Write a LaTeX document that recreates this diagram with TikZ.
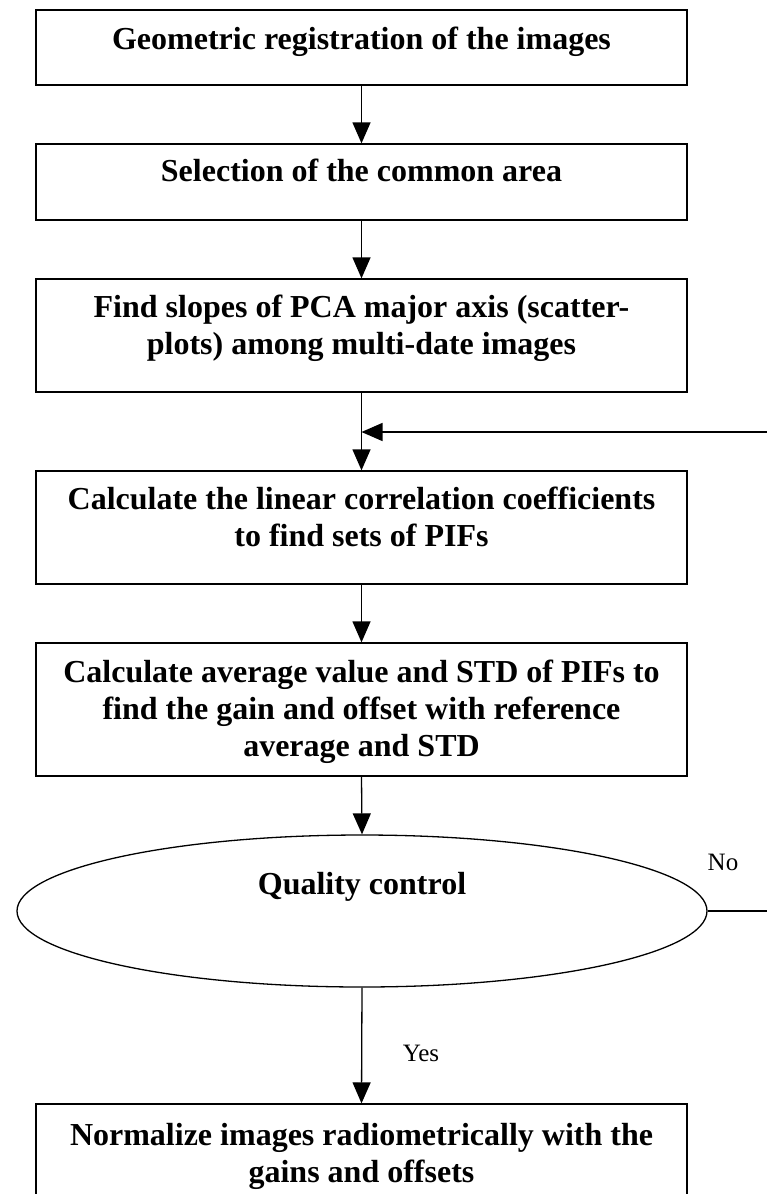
\documentclass[tikz,border=0pt]{standalone}
\usepackage{fontspec}
\setmainfont{Liberation Serif}
\usetikzlibrary{arrows.meta,shapes.geometric}
\begin{document}
\begin{tikzpicture}[x=1pt,y=-1pt,
  box/.style={draw, line width=1.3pt, minimum width=651pt, inner sep=0pt, rectangle},
  lbl/.style={font=\fontsize{32}{36.8}\selectfont\bfseries, align=center, anchor=base, inner sep=0pt},
  small/.style={font=\fontsize{25}{29}\selectfont, inner sep=0pt},
  arr/.style={line width=1.3pt, -{Triangle[length=21pt,width=18pt]}}
]
\useasboundingbox (0,0) rectangle (767,1194);
\clip (0,0) rectangle (767,1194);
\fill[white] (0,0) rectangle (767,1194);

\node[box, minimum height=75pt]  (b1) at (361.5,47.5) {};
\node[box, minimum height=76pt]  (b2) at (361.5,182) {};
\node[box, minimum height=113pt] (b3) at (361.5,335.5) {};
\node[box, minimum height=113pt] (b4) at (361.5,527.5) {};
\node[box, minimum height=133pt] (b5) at (361.5,709.5) {};
\node[draw, ellipse, line width=1.3pt, minimum width=690pt, minimum height=152pt, inner sep=0pt] (qc) at (362,911) {};
\node[box, minimum height=140pt] (b6) at (361.5,1174) {};

% multi-line labels are anchored at the baseline of their last line
\node[lbl] (t1) at (361.5,49) {Geometric registration of the images};
\node[lbl] (t2) at (361.5,181) {Selection of the common area};
\node[lbl] (t3) at (361.5,354) {Find slopes of PCA major axis (scatter-\\plots) among multi-date images};
\node[lbl] (t4) at (361.5,546) {Calculate the linear correlation coefficients\\to find sets of PIFs};
\node[lbl] (t5) at (361.5,756) {Calculate average value and STD of PIFs to\\find the gain and offset with reference\\average and STD};
\node[lbl] (tq) at (362,894) {Quality control};
\node[lbl] (t6) at (361.5,1182) {Normalize images radiometrically with the\\gains and offsets};

\node[small] (no) at (723,862) {No};
\node[small] (yes) at (421,1053) {Yes};

\coordinate (j) at (361.5,432);
\coordinate (rc) at (769,911);
\coordinate (rt) at (769,432);

\draw[arr] (b1.south) -- (b2.north);
\draw[arr] (b2.south) -- (b3.north);
\draw[arr] (b3.south) -- (b4.north);
\draw[arr] (b4.south) -- (b5.north);
\draw[arr] (b5.south) -- (qc.north);
\draw[arr] (qc.south) -- (b6.north);
\draw[arr] (qc.east) -- (rc) -- (rt) -- (j);
\end{tikzpicture}
\end{document}
